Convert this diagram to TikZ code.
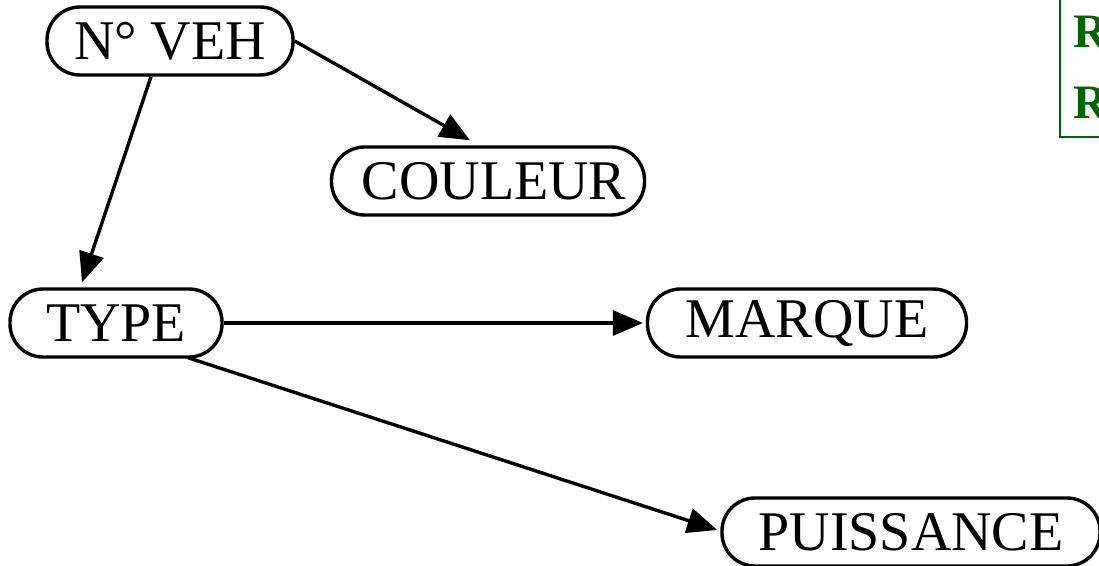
\documentclass[tikz,border=0pt]{standalone}
\usepackage{fontspec}
\setmainfont{Liberation Serif}
\usepackage{xcolor}
\usetikzlibrary{arrows.meta,calc,positioning}
\definecolor{legendGreen}{HTML}{006400}

\begin{document}
\begin{tikzpicture}[x=1pt,y=-1pt,line width=3.4pt,
    >={Triangle[length=30pt,width=25pt]},
    attr/.style={draw,rounded corners=33pt,minimum height=68pt,inner sep=0pt,
      font=\fontsize{56}{60}\selectfont}]
  \clip (0,0) rectangle (1099,565);
  \node[attr,minimum width=246pt] (veh) at (170,41) {N° VEH};
  \node[attr,minimum width=313pt] (couleur) at (488,181) {\hspace{12pt}COULEUR};
  \node[attr,minimum width=212pt] (type) at (116,323) {TYPE};
  \node[attr,minimum width=319pt] (marque) at (807,323) {MARQUE};
  \node[attr,minimum width=378pt] (puissance) at (911,532) {PUISSANCE};
  \draw[->] (veh.east) -- ($(couleur.north)+(-18,-5)$);
  \draw[->] ($(veh.south)+(-19,0)$) -- ($(type.north)+(-34,-5)$);
  \draw[->] (type.east) -- ($(marque.west)+(-3,0)$);
  \draw[->] ($(type.south)+(72,-1)$) -- ($(puissance.west)+(-3,-2)$);
  % legend, cut by the border
  \draw[legendGreen,line width=2pt] (1120,-10) -- (1060,-10) -- (1060,137) -- (1120,137);
  \node[legendGreen,anchor=west,inner sep=0pt,font=\fontsize{48}{52}\selectfont\bfseries]
    (legA) at (1072,32) {R};
  \node[legendGreen,anchor=west,inner sep=0pt,font=\fontsize{48}{52}\selectfont\bfseries]
    (legB) at (1072,103) {R};
\end{tikzpicture}
\end{document}
